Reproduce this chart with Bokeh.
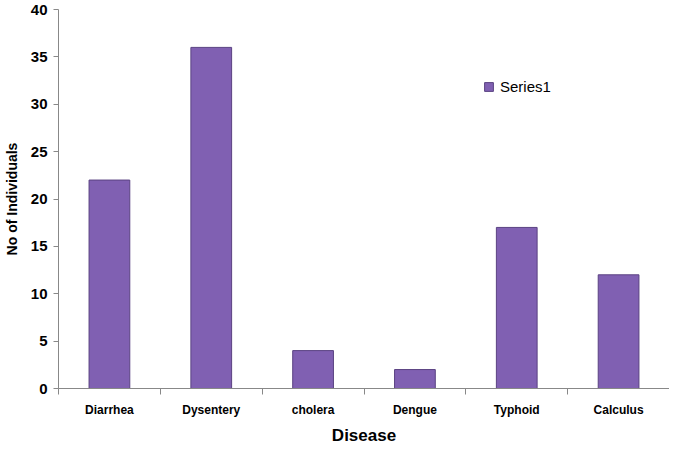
from bokeh.plotting import figure
from bokeh.models import Range1d, FixedTicker, ColumnDataSource, Legend, LegendItem
from bokeh.embed import file_html
from bokeh.resources import INLINE

categories = ["Diarrhea", "Dysentery", "cholera", "Dengue", "Typhoid", "Calculus"]
values = [22, 36, 4, 2, 17, 12]
series_name = "Series1"
y_ticks = [0, 5, 10, 15, 20, 25, 30, 35, 40]

xs = [i + 0.5 for i in range(len(categories))]
src = ColumnDataSource(dict(x=xs, top=values, cat=categories))

p = figure(width=669, height=447, output_backend="svg", toolbar_location=None,
           x_range=Range1d(0, len(categories)), y_range=Range1d(0, 40),
           min_border_left=55, min_border_right=0, min_border_top=9, min_border_bottom=40)
p.outline_line_color = None
p.grid.visible = False
p.background_fill_color = "white"

r = p.vbar(x="x", top="top", width=0.40, bottom=0, source=src,
           fill_color="#8060b2", line_color="#5a4282", line_width=1)
# light top bevel
p.vbar(x="x", top="top", width=0.37, bottom=[v - 0.3 if v > 0.5 else 0 for v in values],
       fill_color="#a083cf", line_color=None)

# x axis
xa = p.xaxis[0]
xa.ticker = FixedTicker(ticks=xs, minor_ticks=list(range(len(categories) + 1)))
xa.major_label_overrides = {x: c for x, c in zip(xs, categories)}
xa.major_tick_out = 0
xa.major_tick_in = 0
xa.minor_tick_out = 6
xa.minor_tick_in = 0
xa.minor_tick_line_color = "#888888"
xa.axis_line_color = "#888888"
xa.major_label_text_font = "Liberation Sans"
xa.major_label_text_font_style = "bold"
xa.major_label_text_font_size = "12px"
xa.major_label_text_color = "black"
xa.major_label_standoff = 8
xa.axis_label = "Disease"
xa.axis_label_text_font = "Liberation Sans"
xa.axis_label_text_font_style = "bold"
xa.axis_label_text_font_size = "17px"
xa.axis_label_text_color = "black"
xa.axis_label_standoff = 6

ya = p.yaxis[0]
ya.ticker = FixedTicker(ticks=y_ticks)
ya.minor_tick_line_color = None
ya.major_tick_out = 5
ya.major_tick_in = 0
ya.major_tick_line_color = "#888888"
ya.axis_line_color = "#888888"
ya.major_label_text_font = "Liberation Sans"
ya.major_label_text_font_style = "bold"
ya.major_label_text_font_size = "15px"
ya.major_label_text_color = "black"
ya.major_label_standoff = 6
ya.axis_label = "No of Individuals"
ya.axis_label_text_font = "Liberation Sans"
ya.axis_label_text_font_style = "bold"
ya.axis_label_text_font_size = "14px"
ya.axis_label_text_color = "black"
ya.axis_label_standoff = 8

legend = Legend(items=[LegendItem(label=series_name, renderers=[r])],
                location=(425, 293), border_line_color=None, background_fill_alpha=0,
                label_text_font="Liberation Sans", label_text_font_size="15px",
                label_text_color="black",
                glyph_width=11, glyph_height=11, label_standoff=6)
p.add_layout(legend)

open("out.html", "w").write(file_html(p, INLINE))
